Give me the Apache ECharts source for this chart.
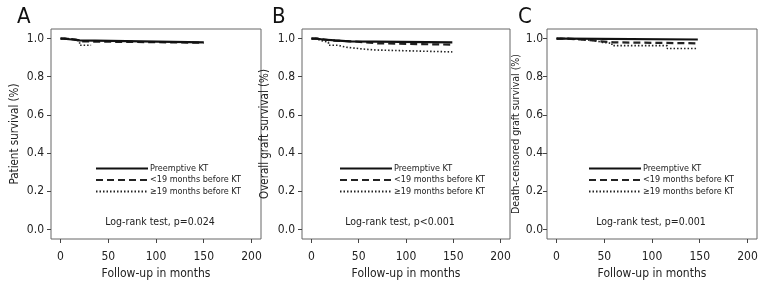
<!DOCTYPE html>
<html>
<head>
<meta charset="utf-8">
<script src="https://cdn.jsdelivr.net/npm/echarts@6/dist/echarts.min.js"></script>
<style>
  html, body { margin: 0; padding: 0; background: #fff; }
  #chart { width: 780px; height: 300px; }
</style>
</head>
<body>
<div id="chart"></div>
<script>
// Kaplan-Meier curves, [month, survival] at each step
const groupNames = ['Preemptive KT', '<19 months before KT', '≥19 months before KT']

const patientPre = [[0, 1], [3, 0.995], [12, 0.99], [20, 0.98], [150, 0.98]]
const patientShort = [[0, 1], [5, 0.995], [16, 0.985], [22, 0.978], [150, 0.978]]
const patientLong = [[0, 1], [8, 0.99], [20, 0.965], [32, 0.965]]

const graftPre = [[0, 1], [5, 0.995], [12, 0.99], [25, 0.985], [40, 0.98], [149, 0.978]]
const graftShort = [[0, 1], [8, 0.99], [20, 0.985], [45, 0.975], [70, 0.968], [148, 0.968]]
const graftLong = [[0, 1], [5, 0.99], [10, 0.98], [18, 0.965], [28, 0.955], [36, 0.945], [55, 0.94], [68, 0.93], [149, 0.93]]

const censPre = [[0, 1], [8, 0.995], [148, 0.994]]
const censShort = [[0, 1], [10, 0.995], [25, 0.99], [38, 0.985], [45, 0.98], [60, 0.975], [148, 0.975]]
const censLong = [[0, 1], [12, 0.993], [30, 0.99], [40, 0.98], [48, 0.975], [58, 0.963], [116, 0.948], [148, 0.948]]

const xTicks = [0, 50, 100, 150, 200]
const yTicks = [0, 0.2, 0.4, 0.6, 0.8, 1.0]

const panelLetters = ['A', 'B', 'C']
const yTitles = ['Patient survival (%)', 'Overall graft survival (%)', 'Death-censored graft survival (%)']
const pValues = ['Log-rank test, p=0.024', 'Log-rank test, p<0.001', 'Log-rank test, p=0.001']
const panelData = [
  [patientPre, patientShort, patientLong],
  [graftPre, graftShort, graftLong],
  [censPre, censShort, censLong]
]

const FONT = "'Liberation Sans Narrow', 'DejaVu Sans Condensed', sans-serif"
const gridLeft = [51, 302, 547]
const gridWidth = [210, 208, 210]
const letterLeft = [12, 267, 513]
const legendLeft = [95, 339, 588]
const pCenter = [155, 395, 646]
const yNameGap = [30, 31, 22]
const yLabelMargin = [7, 7, 4]

const lineStyles = [
  { type: 'solid', width: 2.2, color: '#111' },
  { type: [7, 4], width: 2.2, color: '#222' },
  { type: [1.5, 2], width: 1.6, color: '#222' }
]

const chart = echarts.init(document.getElementById('chart'))

const grid = []
const xAxis = []
const yAxis = []
const series = []
const legend = []
const title = []

panelData.forEach((groups, i) => {
  grid.push({
    left: gridLeft[i], top: 29, width: gridWidth[i], height: 210,
    show: true, borderColor: '#666', borderWidth: 1, backgroundColor: '#fff'
  })
  xAxis.push({
    gridIndex: i, type: 'value', min: -10, max: 210,
    name: 'Follow-up in months', nameLocation: 'middle', nameGap: 29,
    nameTextStyle: { fontFamily: FONT, fontSize: 12, color: '#222' },
    axisLine: { show: false, onZero: false },
    axisTick: { show: true, length: 4, customValues: xTicks, lineStyle: { color: '#444' } },
    axisLabel: { customValues: xTicks, margin: 12, fontFamily: FONT, fontSize: 12, color: '#222' },
    splitLine: { show: false }
  })
  yAxis.push({
    gridIndex: i, type: 'value', min: -0.05, max: 1.05,
    name: yTitles[i], nameLocation: 'middle', nameGap: yNameGap[i],
    nameTextStyle: { fontFamily: FONT, fontSize: i === 2 ? 10.5 : 11.5, color: '#222' },
    axisLine: { show: false, onZero: false },
    axisTick: { show: true, length: 4, customValues: yTicks, lineStyle: { color: '#444' } },
    axisLabel: {
      customValues: yTicks, margin: yLabelMargin[i], fontFamily: FONT, fontSize: 12, color: '#222',
      formatter: v => v.toFixed(1)
    },
    splitLine: { show: false }
  })
  groups.forEach((data, k) => {
    series.push({
      name: groupNames[k], type: 'line', step: 'end',
      xAxisIndex: i, yAxisIndex: i,
      data: data, symbol: 'none', silent: true,
      lineStyle: lineStyles[k], itemStyle: { color: lineStyles[k].color },
      z: 3 - k
    })
  })
  legend.push({
    data: groupNames, orient: 'vertical',
    left: legendLeft[i], top: 164, padding: 0,
    itemWidth: 52, itemHeight: 10, itemGap: 2.5,
    itemStyle: { opacity: 0 },
    textStyle: { fontFamily: FONT, fontSize: 9, color: '#222', padding: [0, 0, 0, -3] },
    selectedMode: false
  })
  title.push({
    text: panelLetters[i], left: letterLeft[i], top: 1,
    textStyle: { fontFamily: FONT, fontSize: 22, fontWeight: 'normal', color: '#111' }
  })
  title.push({
    text: pValues[i], left: pCenter[i], top: 212, textAlign: 'center',
    textStyle: { fontFamily: FONT, fontSize: 10.5, fontWeight: 'normal', color: '#222' }
  })
})

chart.setOption({
  animation: false,
  title: title,
  grid: grid,
  xAxis: xAxis,
  yAxis: yAxis,
  legend: legend,
  series: series
})
</script>
</body>
</html>
